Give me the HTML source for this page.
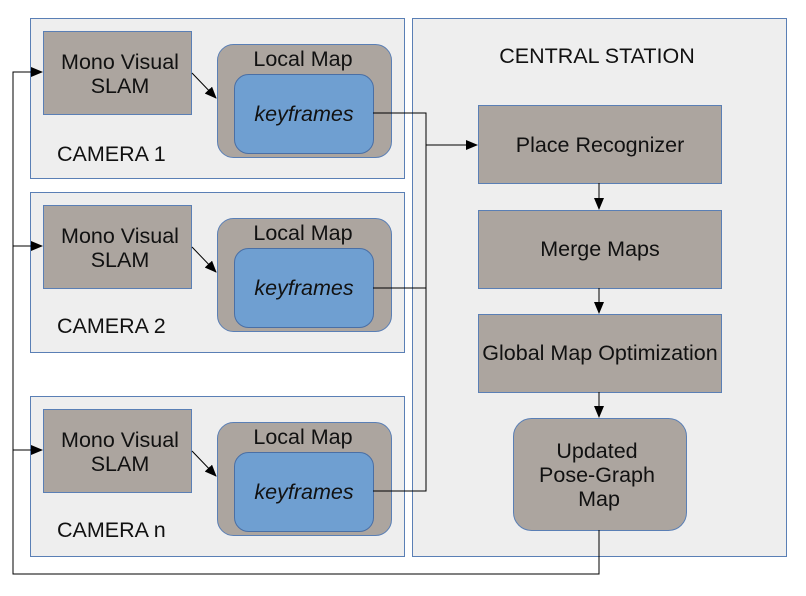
<!DOCTYPE html>
<html><head><style>body{margin:0;background:#fff}</style></head><body>
<svg width="806" height="591" xmlns="http://www.w3.org/2000/svg" font-family="Liberation Sans, sans-serif" font-size="21.5" fill="#111">
<defs><marker id="a" markerWidth="12" markerHeight="10" refX="11" refY="5" orient="auto" markerUnits="userSpaceOnUse"><path d="M0,0L12,5L0,10z" fill="#000"/></marker></defs>
<g stroke="#5a7fb5" stroke-width="1" fill="#eeeeee">
<rect x="30.5" y="18.5" width="374" height="160"/>
<rect x="30.5" y="192.5" width="374" height="160"/>
<rect x="30.5" y="396.5" width="374" height="160"/>
<rect x="412.5" y="18.5" width="374" height="538"/>
</g>
<g stroke="#5a7fb5" fill="#aca59f">
<rect x="43.5" y="31.5" width="148" height="83"/>
<rect x="43.5" y="205.5" width="148" height="83"/>
<rect x="43.5" y="409.5" width="148" height="83"/>
<rect x="217.5" y="44.5" width="174" height="113" rx="16"/>
<rect x="217.5" y="218.5" width="174" height="113" rx="16"/>
<rect x="217.5" y="422.5" width="174" height="113" rx="16"/>
<rect x="478.5" y="105.5" width="243" height="78"/>
<rect x="478.5" y="210.5" width="243" height="78"/>
<rect x="478.5" y="314.5" width="243" height="78"/>
<rect x="513.5" y="418.5" width="173" height="112" rx="18"/>
</g>
<g stroke="#4a6fa5" fill="#6f9fd1">
<rect x="234.5" y="74.5" width="139" height="79" rx="14"/>
<rect x="234.5" y="248.5" width="139" height="79" rx="14"/>
<rect x="234.5" y="452.5" width="139" height="79" rx="14"/>
</g>
<g stroke="#000" stroke-width="1" fill="none">
<path d="M599,530V574H13V72H42" marker-end="url(#a)"/>
<path d="M13,246H42" marker-end="url(#a)"/>
<path d="M13,450H42" marker-end="url(#a)"/>
<path d="M192,73L216,98" marker-end="url(#a)"/>
<path d="M192,247L216,272" marker-end="url(#a)"/>
<path d="M192,451L216,476" marker-end="url(#a)"/>
<path d="M373,113H426V491H373M373,288H426"/>
<path d="M426,145H477" marker-end="url(#a)"/>
<path d="M599,183V209" marker-end="url(#a)"/>
<path d="M599,288V313" marker-end="url(#a)"/>
<path d="M599,392V417" marker-end="url(#a)"/>
</g>
<g text-anchor="middle">
<text x="120" y="69">Mono Visual</text><text x="120" y="93">SLAM</text>
<text x="120" y="243">Mono Visual</text><text x="120" y="267">SLAM</text>
<text x="120" y="447">Mono Visual</text><text x="120" y="471">SLAM</text>
<text x="303" y="66">Local Map</text><text x="303" y="240">Local Map</text><text x="303" y="444">Local Map</text>
<text x="304" y="121" font-style="italic">keyframes</text>
<text x="304" y="295" font-style="italic">keyframes</text>
<text x="304" y="499" font-style="italic">keyframes</text>
<text x="597" y="63">CENTRAL STATION</text>
<text x="600" y="152">Place Recognizer</text>
<text x="600" y="256">Merge Maps</text>
<text x="600" y="360">Global Map Optimization</text>
<text x="597" y="458">Updated</text><text x="597" y="482">Pose-Graph</text><text x="599" y="506">Map</text>
</g>
<text x="57" y="161">CAMERA 1</text>
<text x="57" y="333">CAMERA 2</text>
<text x="57" y="537">CAMERA n</text>
</svg>
</body></html>
